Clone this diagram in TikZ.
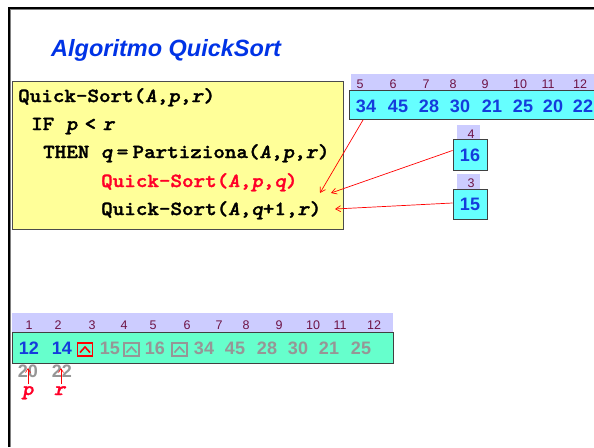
\documentclass[tikz,border=0pt]{standalone}
\usepackage{fontspec}
\setmainfont{Liberation Sans}
\newfontfamily\codefont{lmmonolt10-bold.otf}[ItalicFont=lmmonolt10-boldoblique.otf, FakeStretch=1.1, FakeBold=1.6]
\usetikzlibrary{arrows.meta}
\definecolor{titleblue}{RGB}{0,51,230}
\definecolor{numblue}{RGB}{20,60,220}
\definecolor{idxcol}{RGB}{110,20,70}
\definecolor{lav}{RGB}{204,204,255}
\definecolor{cyanbox}{RGB}{102,255,255}
\definecolor{greenbox}{RGB}{102,255,204}
\definecolor{codeyellow}{RGB}{255,255,153}
\definecolor{codered}{RGB}{255,0,40}
\definecolor{numgray}{RGB}{150,150,150}
\begin{document}
\begin{tikzpicture}[x=1pt,y=-1pt,
  codeline/.style={anchor=base west,inner sep=0pt,font=\codefont\fontsize{20}{20}\selectfont},
  idx/.style={anchor=base,inner sep=0pt,text=idxcol,font=\fontsize{12.5}{12.5}\selectfont},
  num/.style={anchor=base,inner sep=0pt,text=numblue,font=\bfseries\fontsize{18}{18}\selectfont},
  gnum/.style={anchor=base,inner sep=0pt,text=numgray,font=\bfseries\fontsize{18}{18}\selectfont},
  redarrow/.style={draw=red,line width=0.7pt,-{Straight Barb[length=5pt,width=6pt]}},
  icon/.style={draw,line width=1.8pt,minimum width=15pt,minimum height=12.5pt,inner sep=0pt},
  cellbox/.style={draw=black!75,line width=1pt,inner sep=0pt}]
\clip (0,0) rectangle (594,447);
\fill[white] (0,0) rectangle (594,447);
% frame
\draw[gray,line width=1pt] (10.5,9) -- (10.5,447);
\draw[gray,line width=1pt] (9,9.5) -- (594,9.5);
\draw[black,line width=2pt] (8.5,447) -- (8.5,7.5) -- (594,7.5);
% title
\node[anchor=base west,inner sep=0pt,text=titleblue,font=\bfseries\itshape\fontsize{23.5}{23.5}\selectfont] (title) at (51,56) {Algoritmo QuickSort};
% code box
\node[draw=black!70,line width=1pt,fill=codeyellow,minimum width=331pt,minimum height=148pt,anchor=north west,inner sep=0pt] (code) at (12,81) {};
\node[codeline] (l1) at (18,102) {Quick-Sort(\textit{A},\textit{p},\textit{r})};
\node[codeline] (l2) at (31,130) {IF \textit{p}\makebox[25pt]{<}\textit{r}};
\node[codeline] (l3) at (43,158) {THEN \textit{q}\makebox[20pt]{=}Partiziona(\textit{A},\textit{p},\textit{r})};
\node[codeline,text=codered] (l4) at (101,187) {Quick-Sort(\textit{A},\textit{p},\textit{q})};
\node[codeline] (l5) at (101,215) {Quick-Sort(\textit{A},\textit{q}+1,\textit{r})};
% top array
\fill[lav] (351,74) rectangle (600,90);
\node[cellbox,fill=cyanbox,minimum width=260pt,minimum height=29pt,anchor=north west] (top) at (349,90) {};
\foreach \x/\i in {360/5,393/6,426/7,453/8,485/9,520/10,548/11,580/12}
  \node[idx] (ti\i) at (\x,88) {\i};
\foreach \x/\v/\n in {366/34/a,398/45/b,429/28/c,460/30/d,492/21/e,523/25/f,553/20/g,583/22/h}
  \node[num] (tn\n) at (\x,112) {\v};
% box 16
\fill[lav] (457,125) rectangle (480,140);
\node[idx] (i4) at (471,138) {4};
\node[cellbox,fill=cyanbox,minimum width=34pt,minimum height=31pt] (b16) at (470,154.5) {};
\node[num] (n16) at (470,161) {16};
% box 15
\fill[lav] (457,174) rectangle (480,189);
\node[idx] (i3) at (471,187) {3};
\node[cellbox,fill=cyanbox,minimum width=34pt,minimum height=30pt] (b15) at (470,204) {};
\node[num] (n15) at (470,210.5) {15};
% arrows into code
\coordinate (s1) at (363,120);
\coordinate (t1) at (320,193);
\coordinate (t2) at (331,193);
\coordinate (t3) at (335,209);
\draw[redarrow] (s1) -- (t1);
\draw[redarrow] ([yshift=4pt]b16.west) -- (t2);
\draw[redarrow] ([yshift=1pt]b15.west) -- (t3);
% bottom array
\fill[lav] (12,313) rectangle (393,332);
\node[cellbox,fill=greenbox,minimum width=381pt,minimum height=31pt,anchor=north west] (bot) at (12,332) {};
\foreach \x/\i in {29/1,58/2,92/3,124/4,153/5,187/6,219/7,246/8,279/9,313/10,340/11,374/12}
  \node[idx] (bi\i) at (\x,329) {\i};
\node[num] (b12) at (29,354) {12};
\node[num] (b14) at (62,354) {14};
\node[icon,draw=red] (ic1) at (85,349.5) {};
\draw[red,line width=1.6pt] ([xshift=-5pt,yshift=-3pt]ic1.center) -- ([yshift=2.5pt]ic1.center) -- ([xshift=5pt,yshift=-3pt]ic1.center);
\node[gnum] (b15) at (110,354) {15};
\node[icon,draw=numgray] (ic2) at (131.5,349.5) {};
\draw[numgray,line width=1.6pt] ([xshift=-5pt,yshift=-3pt]ic2.center) -- ([yshift=2.5pt]ic2.center) -- ([xshift=5pt,yshift=-3pt]ic2.center);
\node[gnum] (bb16) at (155,354) {16};
\node[icon,draw=numgray] (ic3) at (179.5,349.5) {};
\draw[numgray,line width=1.6pt] ([xshift=-5pt,yshift=-3pt]ic3.center) -- ([yshift=2.5pt]ic3.center) -- ([xshift=5pt,yshift=-3pt]ic3.center);
\foreach \x/\v/\n in {204/34/a,235/45/b,267/28/c,298/30/d,329/21/e,361/25/f}
  \node[gnum] (bg\n) at (\x,354) {\v};
\node[gnum] (b20) at (28,377) {20};
\node[gnum] (b22) at (62,377) {22};
% p and r pointers
\node[codeline,anchor=base,text=codered] (pp) at (28,395) {\textit{p}};
\node[codeline,anchor=base,text=codered] (rr) at (60,395) {\textit{r}};
\coordinate (pa) at (28,384);
\coordinate (pb) at (28,368);
\coordinate (ra) at (61,384);
\coordinate (rb) at (61,368);
\draw[redarrow,line width=0.6pt,-{Straight Barb[length=4pt,width=5pt]}] (pa) -- (pb);
\draw[redarrow,line width=0.6pt,-{Straight Barb[length=4pt,width=5pt]}] (ra) -- (rb);
\end{tikzpicture}
\end{document}
